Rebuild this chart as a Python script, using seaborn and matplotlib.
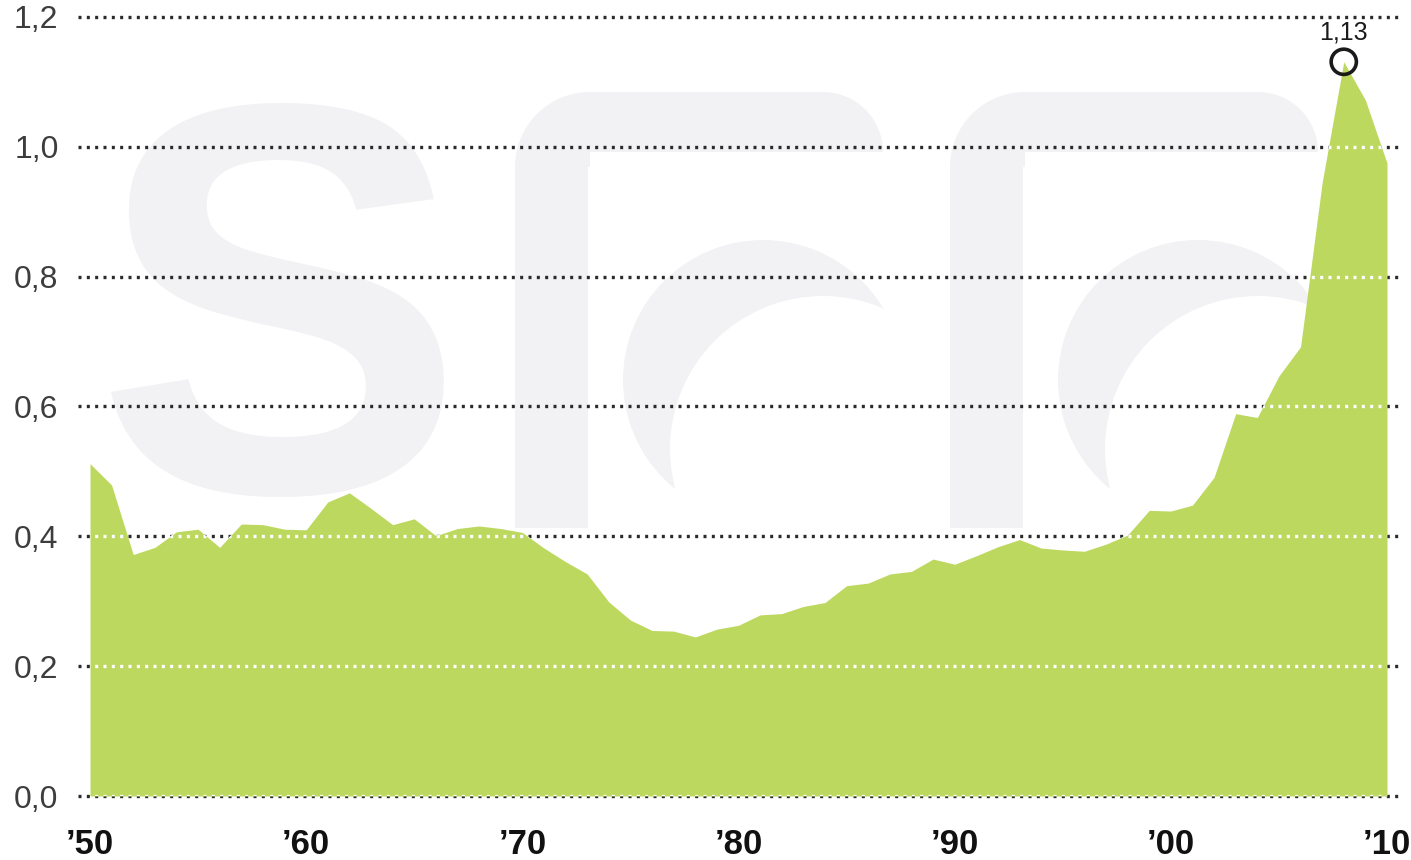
import matplotlib
matplotlib.use("Agg")
import matplotlib.pyplot as plt
import pandas as pd
import seaborn as sns
from matplotlib.patches import Circle, Rectangle, Wedge


YEARS = list(range(1950, 2011))
VALUES = [
    0.512, 0.479, 0.372, 0.383, 0.407, 0.411, 0.383, 0.419, 0.418, 0.411,
    0.410, 0.453, 0.467, 0.443, 0.418, 0.427, 0.401, 0.412, 0.416, 0.412,
    0.406, 0.382, 0.361, 0.342, 0.299, 0.271, 0.255, 0.254, 0.245, 0.257,
    0.263, 0.279, 0.281, 0.292, 0.298, 0.324, 0.328, 0.342, 0.346, 0.365,
    0.357, 0.370, 0.384, 0.395, 0.382, 0.379, 0.377, 0.388, 0.402, 0.440,
    0.439, 0.448, 0.491, 0.589, 0.583, 0.647, 0.692, 0.945, 1.131, 1.072,
    0.975,
]
Y_TICKS = [0.0, 0.2, 0.4, 0.6, 0.8, 1.0, 1.2]
Y_TICK_LABELS = ["0,0", "0,2", "0,4", "0,6", "0,8", "1,0", "1,2"]
X_TICKS = [1950, 1960, 1970, 1980, 1990, 2000, 2010]
X_TICK_LABELS = ["\u201950", "\u201960", "\u201970", "\u201980", "\u201990", "\u201900", "\u201910"]
PEAK_LABEL = "1,13"

GREEN = "#bdd85f"
LOGO_GRAY = "#f2f2f4"
GRID_DARK = "#2a2a2a"
NARROW = ["Liberation Sans Narrow", "Liberation Sans", "DejaVu Sans"]
DOTS = (0, (0.9, 1.6))


def draw_logo(bg):
    # faint "sfr" watermark behind the chart, in figure pixels
    bg.set_xlim(0, 1411)
    bg.set_ylim(860, 0)
    bg.axis("off")
    bg.text(279, 492, "S", ha="center", va="baseline", fontsize=400,
            fontweight="bold", color=LOGO_GRAY, family=["Liberation Sans", "DejaVu Sans"])
    for dx in (0, 435):
        parts = [
            Rectangle((515 + dx, 166), 73, 362),
            Wedge((590 + dx, 167), 75, 180, 270),
            Rectangle((589 + dx, 92), 234, 60),
            Wedge((823 + dx, 152), 60, 270, 360),
            Circle((763 + dx, 380), 140),
        ]
        for p in parts:
            p.set_facecolor(LOGO_GRAY)
            p.set_edgecolor("none")
            bg.add_patch(p)
        bg.add_patch(Circle((823 + dx, 449), 153, facecolor="white", edgecolor="none"))


sns.set_theme(style="white")
plt.rcParams["font.family"] = ["Liberation Sans", "DejaVu Sans"]

fig = plt.figure(figsize=(14.11, 8.6), dpi=100)
bg = fig.add_axes([0, 0, 1, 1], zorder=0)
draw_logo(bg)

ax = fig.add_axes([78 / 1411, 64 / 860, 1322 / 1411, 779 / 860], zorder=1)
ax.patch.set_alpha(0)

df = pd.DataFrame({"year": YEARS, "value": VALUES})

# dark dotted grid behind the area, white dots where the area covers it
for y in Y_TICKS:
    ax.axhline(y, color=GRID_DARK, lw=2.4, linestyle=DOTS, zorder=1, clip_on=False)

area = ax.fill_between(df["year"], 0, df["value"], color=GREEN, lw=0, zorder=2)
for y in Y_TICKS:
    line = ax.axhline(y, color="white", lw=2.4, linestyle=DOTS, zorder=3)
    line.set_clip_path(area.get_paths()[0], area.get_transform())

peak = df.loc[df["value"].idxmax()]
sns.scatterplot(x=[peak["year"]], y=[peak["value"]], ax=ax, s=330, marker="o",
                facecolors="none", edgecolor="#1a1a1a", linewidth=2.6,
                zorder=5, clip_on=False, legend=False)
ax.annotate(PEAK_LABEL, xy=(peak["year"], peak["value"]), xytext=(0, 21),
            textcoords="offset points", ha="center", va="center",
            fontsize=18, color="#1a1a1a", family=NARROW)

ax.set_xlim(1950 - 12 / 21.617, 2010 + 13 / 21.617)
ax.set_ylim(0, 1.2)
ax.set_xticks(X_TICKS, X_TICK_LABELS)
ax.set_yticks(Y_TICKS, Y_TICK_LABELS)
ax.tick_params(axis="x", length=0, pad=23, labelsize=25, labelcolor="#111111")
ax.tick_params(axis="y", length=0, pad=14, labelsize=23, labelcolor="#3d3d3d")
for lab in ax.get_xticklabels():
    lab.set_family(NARROW)
    lab.set_fontweight("bold")
for spine in ax.spines.values():
    spine.set_visible(False)
ax.grid(False)
ax.set_xlabel("")
ax.set_ylabel("")

fig.savefig("out.png", dpi=100)
